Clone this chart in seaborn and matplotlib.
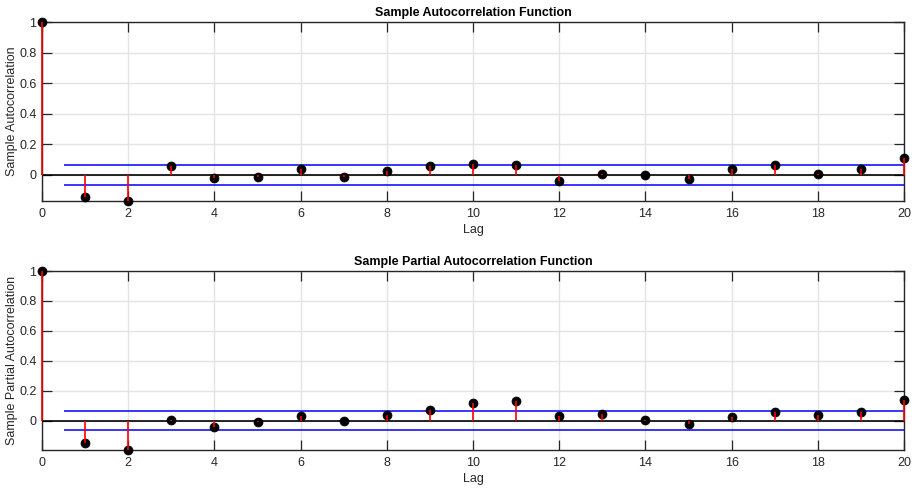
import numpy as np
import pandas as pd
import matplotlib
matplotlib.use("Agg")
import matplotlib.pyplot as plt
import seaborn as sns

lags = list(range(21))
acf_values = [1.0, -0.146, -0.17, 0.061, -0.02, -0.011, 0.041, -0.015, 0.024, 0.059,
              0.072, 0.063, -0.041, 0.007, 0.002, -0.026, 0.037, 0.065, 0.006, 0.041, 0.111]
pacf_values = [1.0, -0.147, -0.195, 0.002, -0.042, -0.011, 0.031, -0.002, 0.038, 0.071,
               0.116, 0.133, 0.031, 0.042, 0.004, -0.02, 0.022, 0.06, 0.036, 0.058, 0.136]
acf_bound = 0.063
pacf_bound = 0.064
titles = ["Sample Autocorrelation Function", "Sample Partial Autocorrelation Function"]
ylabels = ["Sample Autocorrelation", "Sample Partial Autocorrelation"]
xticks = list(range(0, 21, 2))
yticks = [0, 0.2, 0.4, 0.6, 0.8, 1]
ytick_labels = ["0", "0.2", "0.4", "0.6", "0.8", "1"]

sns.set_theme(style="white")
plt.rcParams['font.family'] = ['Liberation Sans', 'DejaVu Sans']

W, H = 914, 490
fig = plt.figure(figsize=(W / 100, H / 100), dpi=100)

def rect(l, t, r, b):
    return [l / W, 1 - b / H, (r - l) / W, (b - t) / H]

axes = [fig.add_axes(rect(42, 22, 904, 201)), fig.add_axes(rect(42, 271, 904, 450))]
series = [acf_values, pacf_values]
bounds = [acf_bound, pacf_bound]

FS = 9
for ax, vals, bnd, title, ylab in zip(axes, series, bounds, titles, ylabels):
    df = pd.DataFrame({"Lag": lags, "value": vals})
    ymin = min(vals)
    ax.set_xlim(0, 20)
    ax.set_ylim(ymin, 1)
    ax.set_xticks(xticks)
    ax.set_yticks(yticks)
    ax.set_yticklabels(ytick_labels)
    ax.grid(True, color="#e3e3e3", linewidth=1.0, zorder=0)
    ax.set_axisbelow(True)
    ax.axhline(0, color="black", linewidth=1.2, zorder=2)
    ax.hlines([bnd, -bnd], 0.5, 20, colors="#0000ff", linewidth=1.1, zorder=2)
    sns.scatterplot(data=df, x="Lag", y="value", ax=ax, color="black", s=42,
                    edgecolor="black", linewidth=0.5, zorder=3, clip_on=False, legend=False)
    ax.vlines(df["Lag"], 0, df["value"], colors="#ff0000", linewidth=1.2, zorder=4, clip_on=False)
    for side, sp in ax.spines.items():
        sp.set_color("#262626")
        sp.set_linewidth(1.0)
        sp.set_zorder(1)
    ax.tick_params(axis="both", which="both", direction="in", length=7, width=0.9,
                   colors="#262626", labelcolor="#262626", labelsize=FS,
                   top=True, right=True, bottom=True, left=True)
    ax.tick_params(axis="x", pad=5)
    ax.tick_params(axis="y", pad=4)
    ax.set_title(title, fontsize=FS, fontweight="bold", pad=4, color="black")
    ax.set_xlabel("Lag", fontsize=FS, labelpad=3, color="#262626")
    ax.set_ylabel(ylab, fontsize=FS, labelpad=1, color="#262626")

fig.savefig("out.png", dpi=100)
